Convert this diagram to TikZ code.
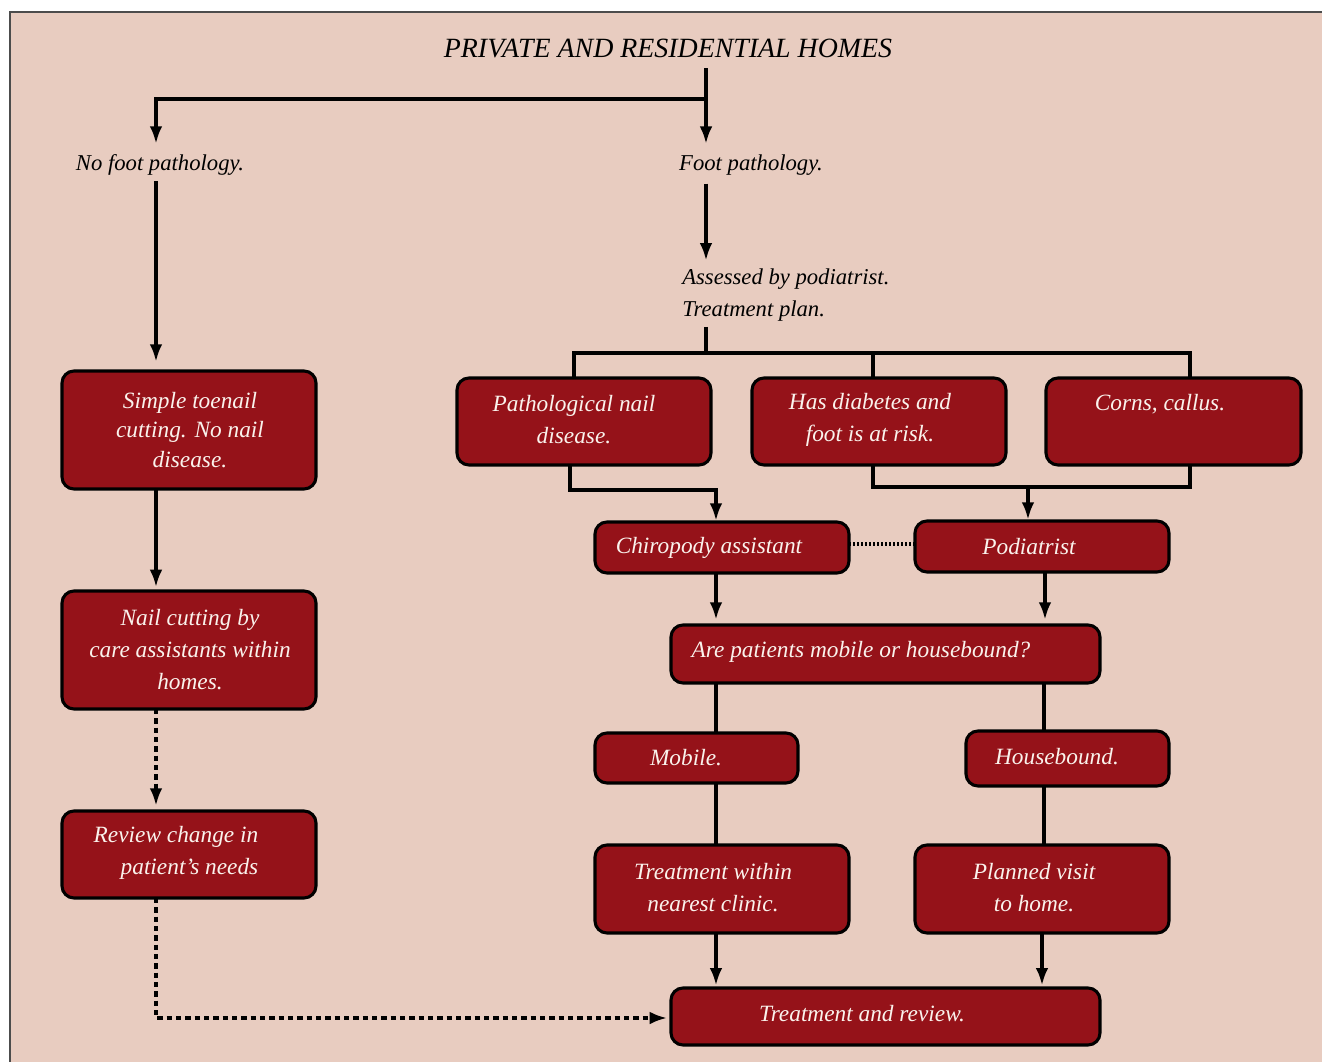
\documentclass[tikz,border=0pt]{standalone}
\usepackage{fontspec}
\setmainfont{Liberation Serif}
\usetikzlibrary{arrows.meta}
\definecolor{bg}{HTML}{E8CCC0}
\definecolor{boxred}{HTML}{951219}
\definecolor{boxtxt}{HTML}{FAF2EC}
\newcommand\mybox[5]{\node[box, minimum width={(#4-#2)*0.75pt}, minimum height={(#5-#3)*0.75pt}] (#1) at ({(#2+#4)/2},{(#3+#5)/2}) {};}
\begin{document}
\begin{tikzpicture}[x=0.75pt,y=-0.75pt,
  box/.style={draw=black, line width=2.3pt, fill=boxred, rounded corners=9pt, inner sep=0pt, outer sep=0pt},
  btxt/.style={text=boxtxt, font=\itshape\fontsize{17.5}{24}\selectfont, align=center, inner sep=0pt},
  ltxt/.style={font=\itshape\fontsize{17}{24}\selectfont, align=center, inner sep=0pt},
  ln/.style={line width=2.4pt},
  arr/.style={ln, -{Latex[length=13pt,width=9.5pt]}},
  dsh/.style={dash pattern=on 4pt off 3pt},
  dts/.style={dash pattern=on 1.6pt off 1.4pt}
]
\useasboundingbox (0,0) rectangle (1322,1062);
\fill[white] (0,0) rectangle (1322,1062);
\draw[fill=bg, draw=black!70, line width=0.9pt] (10,12) rectangle (1345,1085);

% x / y reference coordinates
\coordinate (X156) at (156,0);
\coordinate (X706) at (706,0);
\coordinate (X574) at (574,0);
\coordinate (X570) at (570,0);
\coordinate (X873) at (873,0);
\coordinate (X1190) at (1190,0);
\coordinate (X716) at (716,0);
\coordinate (X1028) at (1028,0);
\coordinate (X1045) at (1045,0);
\coordinate (X1044) at (1044,0);
\coordinate (X1042) at (1042,0);

% labels
\node[font=\itshape\fontsize{20.9}{24}\selectfont, inner sep=0pt] (title) at (668,48) {PRIVATE AND RESIDENTIAL HOMES};
\node[ltxt] (nofp) at (160,165) {No foot pathology.};
\node[ltxt] (fp) at (751,165) {Foot pathology.};
\node[ltxt, align=left, anchor=west] (assess) at (682,295) {Assessed by podiatrist.\\ Treatment plan.};

% boxes
\mybox{sb}{62}{371}{316}{489}
\mybox{nc}{62}{591}{316}{709}
\mybox{rc}{62}{811}{316}{898}
\mybox{pnd}{457}{378}{711}{465}
\mybox{dia}{752}{378}{1006}{465}
\mybox{cor}{1046}{378}{1301}{465}
\mybox{ca}{595}{522}{849}{573}
\mybox{pod}{915}{521}{1169}{572}
\mybox{apm}{671}{625}{1100}{683}
\mybox{mob}{595}{733}{798}{783}
\mybox{hb}{966}{731}{1169}{786}
\mybox{twc}{595}{845}{849}{933}
\mybox{pvh}{915}{845}{1169}{933}
\mybox{tar}{671}{988}{1100}{1045}

% box texts
\node[btxt, font=\itshape\fontsize{17.5}{22}\selectfont] (sbt) at (190,430) {Simple toenail\\cutting. No nail\\disease.};
\node[btxt] (nct) at (190,650) {Nail cutting by\\care assistants within\\homes.};
\node[btxt, align=right] (rct) at (176,853) {Review change in\\patient’s needs};
\node[btxt] (pndt) at (574,420) {Pathological nail\\disease.};
\node[btxt] (diat) at (870,420) {Has diabetes and\\foot is at risk.};
\node[btxt] (cort) at (1160,404) {Corns, callus.};
\node[btxt] (cat) at (709,548) {Chiropody assistant};
\node[btxt] (podt) at (1029,547) {Podiatrist};
\node[btxt] (apmt) at (861,652) {Are patients mobile or housebound?};
\node[btxt] (mobt) at (686,758) {Mobile.};
\node[btxt] (hbt) at (1057,757) {Housebound.};
\node[btxt] (twct) at (713,888) {Treatment within\\nearest clinic.};
\node[btxt] (pvht) at (1034,888) {Planned visit\\to home.};
\node[btxt] (tart) at (862,1014) {Treatment and review.};

% connectors: top
\coordinate (j0) at (706,99);
\draw[arr, shorten <=8pt, shorten >=8pt] (title.south -| X706) -- (fp.north -| X706);
\draw[arr, shorten >=8pt] (j0) -| (nofp.north -| X156);
\draw[arr, shorten <=6pt, shorten >=6pt] (fp.south -| X706) -- (assess.north -| X706);
\coordinate (bus1) at (1190,353);
\draw[ln, shorten <=4pt] (assess.south -| X706) -- (bus1 -| X706);
\draw[ln] (pnd.north -| X574) |- (bus1) -- (cor.north -| X1190);
\draw[ln] (dia.north -| X873) -- (bus1 -| X873);

% second level
\coordinate (b1) at (716,490);
\draw[arr, shorten >=1pt] (pnd.south -| X570) |- (b1) -- (ca.north -| b1);
\coordinate (b2) at (1190,487);
\draw[ln] (dia.south -| X873) |- (b2) -- (cor.south -| b2);
\draw[arr, shorten >=1pt] (X1028 |- b2) -- (pod.north -| X1028);
\draw[ln, dts] (ca.east |- 0,544) -- (pod.west |- 0,544);

\draw[arr, shorten >=4pt] (ca.south -| X716) -- (apm.north -| X716);
\draw[arr, shorten >=4pt] (pod.south -| X1045) -- (apm.north -| X1045);
\draw[ln] (apm.south -| X716) -- (mob.north -| X716);
\draw[ln] (apm.south -| X1044) -- (hb.north -| X1044);
\draw[ln] (mob.south -| X716) -- (twc.north -| X716);
\draw[ln] (hb.south -| X1044) -- (pvh.north -| X1044);
\draw[arr, shorten >=2pt] (twc.south -| X716) -- (tar.north -| X716);
\draw[arr, shorten >=2pt] (pvh.south -| X1042) -- (tar.north -| X1042);

% left column
\draw[arr, shorten <=4pt, shorten >=7pt] (nofp.south -| X156) -- (sb.north -| X156);
\draw[arr, shorten >=3pt] (sb.south -| X156) -- (nc.north -| X156);
\draw[arr, dsh, shorten >=4pt] (nc.south -| X156) -- (rc.north -| X156);
\draw[arr, dsh, shorten >=3pt] (rc.south -| X156) |- (tar.west |- 0,1018);
\end{tikzpicture}
\end{document}
